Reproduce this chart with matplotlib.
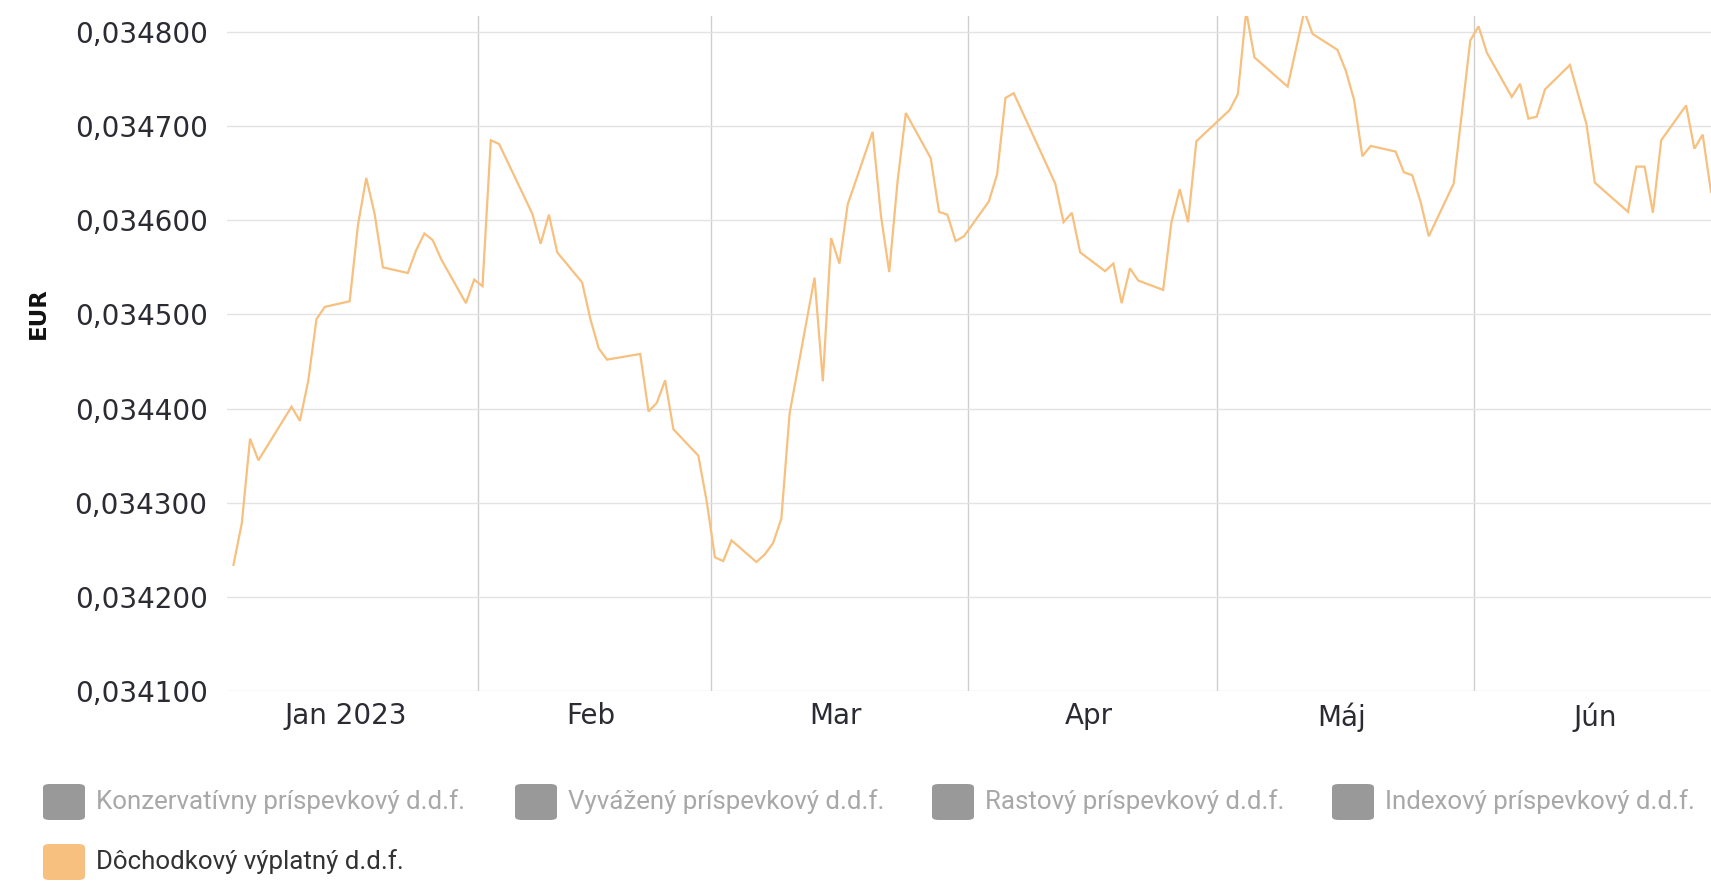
import matplotlib
matplotlib.use("Agg")
import matplotlib.pyplot as plt
import matplotlib.dates as mdates
from matplotlib.patches import FancyBboxPatch
from matplotlib.ticker import FuncFormatter
import pandas as pd

# daily NAV of the fund
dates = [
    "2023-01-02", "2023-01-03", "2023-01-04", "2023-01-05", "2023-01-09", "2023-01-10",
    "2023-01-11", "2023-01-12", "2023-01-13", "2023-01-16", "2023-01-17", "2023-01-18",
    "2023-01-19", "2023-01-20", "2023-01-23", "2023-01-24", "2023-01-25", "2023-01-26",
    "2023-01-27", "2023-01-30", "2023-01-31", "2023-02-01", "2023-02-02", "2023-02-03",
    "2023-02-07", "2023-02-08", "2023-02-09", "2023-02-10", "2023-02-13", "2023-02-14",
    "2023-02-15", "2023-02-16", "2023-02-20", "2023-02-21", "2023-02-22", "2023-02-23",
    "2023-02-24", "2023-02-27", "2023-02-28", "2023-03-01", "2023-03-02", "2023-03-03",
    "2023-03-06", "2023-03-07", "2023-03-08", "2023-03-09", "2023-03-10", "2023-03-13",
    "2023-03-14", "2023-03-15", "2023-03-16", "2023-03-17", "2023-03-20", "2023-03-21",
    "2023-03-22", "2023-03-23", "2023-03-24", "2023-03-27", "2023-03-28", "2023-03-29",
    "2023-03-30", "2023-03-31", "2023-04-03", "2023-04-04", "2023-04-05", "2023-04-06",
    "2023-04-11", "2023-04-12", "2023-04-13", "2023-04-14", "2023-04-17", "2023-04-18",
    "2023-04-19", "2023-04-20", "2023-04-21", "2023-04-24", "2023-04-25", "2023-04-26",
    "2023-04-27", "2023-04-28", "2023-05-02", "2023-05-03", "2023-05-04", "2023-05-05",
    "2023-05-09", "2023-05-11", "2023-05-12", "2023-05-15", "2023-05-16", "2023-05-17",
    "2023-05-18", "2023-05-19", "2023-05-22", "2023-05-23", "2023-05-24", "2023-05-25",
    "2023-05-26", "2023-05-29", "2023-05-31", "2023-06-01", "2023-06-02", "2023-06-05",
    "2023-06-06", "2023-06-07", "2023-06-08", "2023-06-09", "2023-06-12", "2023-06-14",
    "2023-06-15", "2023-06-19", "2023-06-20", "2023-06-21", "2023-06-22", "2023-06-23",
    "2023-06-26", "2023-06-27", "2023-06-28", "2023-06-29",
]
values = [
    0.034234, 0.034278, 0.034368, 0.034345, 0.034402, 0.034387,
    0.034429, 0.034495, 0.034508, 0.034514, 0.034595, 0.034645,
    0.034607, 0.034550, 0.034544, 0.034568, 0.034586, 0.034579,
    0.034559, 0.034512, 0.034537, 0.034530, 0.034685, 0.034681,
    0.034607, 0.034575, 0.034606, 0.034566, 0.034534, 0.034495,
    0.034464, 0.034452, 0.034458, 0.034397, 0.034406, 0.034430,
    0.034378, 0.034350, 0.034302, 0.034242, 0.034238, 0.034260,
    0.034237, 0.034245, 0.034257, 0.034283, 0.034395, 0.034539,
    0.034429, 0.034581, 0.034554, 0.034617, 0.034694, 0.034605,
    0.034545, 0.034641, 0.034714, 0.034666, 0.034609, 0.034606,
    0.034578, 0.034583, 0.034620, 0.034649, 0.034730, 0.034735,
    0.034639, 0.034598, 0.034608, 0.034566, 0.034546, 0.034554,
    0.034512, 0.034549, 0.034536, 0.034526, 0.034598, 0.034633,
    0.034598, 0.034684, 0.034717, 0.034734, 0.034822, 0.034773,
    0.034742, 0.034822, 0.034798, 0.034781, 0.034759, 0.034728,
    0.034668, 0.034679, 0.034673, 0.034651, 0.034648, 0.034620,
    0.034583, 0.034639, 0.034791, 0.034806, 0.034778, 0.034731,
    0.034745, 0.034708, 0.034710, 0.034739, 0.034765, 0.034702,
    0.034640, 0.034609, 0.034657, 0.034657, 0.034608, 0.034685,
    0.034722, 0.034676, 0.034691, 0.034630,
]

month_starts = ["2023-02-01", "2023-03-01", "2023-04-01", "2023-05-01", "2023-06-01"]
month_mids = ["2023-01-16 00:00", "2023-02-14 12:00", "2023-03-16 00:00",
              "2023-04-15 12:00", "2023-05-16 00:00", "2023-06-15 12:00"]
month_labels = ["Jan 2023", "Feb", "Mar", "Apr", "Máj", "Jún"]
y_ticks = [0.0341, 0.0342, 0.0343, 0.0344, 0.0345, 0.0346, 0.0347, 0.0348]

legend_names = ["Konzervatívny príspevkový d.d.f.", "Vyvážený príspevkový d.d.f.",
                "Rastový príspevkový d.d.f.", "Indexový príspevkový d.d.f.",
                "Dôchodkový výplatný d.d.f."]
legend_visible = [False, False, False, False, True]

line_color = "#f7c07f"
W, H = 1711, 881

fig = plt.figure(figsize=(W / 100, H / 100), dpi=100)
ax = fig.add_axes([227 / W, (H - 691) / H, (W - 227) / W, (691 - 16) / H])

x = pd.to_datetime(dates) + pd.Timedelta(hours=12)
ax.plot(x, values, color=line_color, lw=1.6, solid_joinstyle="miter")

jan1 = mdates.date2num(pd.Timestamp("2023-01-01"))
ax.set_xlim(jan1 + 0.72, jan1 + 179.5)
ax.set_ylim(0.0341, 0.034817)

ax.set_yticks(y_ticks)
ax.yaxis.set_major_formatter(FuncFormatter(lambda v, p: f"{v:.6f}".replace(".", ",")))
ax.set_xticks(mdates.date2num(pd.to_datetime(month_starts)))
ax.set_xticklabels([])
ax.set_xticks(mdates.date2num(pd.to_datetime(month_mids, format="%Y-%m-%d %H:%M")), minor=True)
ax.set_xticklabels(month_labels, minor=True)

ax.tick_params(axis="y", length=0, pad=14, labelsize=20, labelcolor="#2b2b33")
ax.tick_params(axis="x", which="both", length=0, pad=8, labelsize=20, labelcolor="#2b2b33")

ax.grid(axis="y", color="#e3e3e3", lw=1)
ax.grid(axis="x", which="major", color="#cfcfcf", lw=1)
for s in ax.spines.values():
    s.set_visible(False)

fig.text(38 / W, (H - 313) / H, "EUR", rotation=90, ha="center", va="center",
         fontsize=16.5, fontweight="bold", color="#111111")

# legend drawn by hand, Highcharts style
box_x = [43, 515, 932, 1332, 43]
row_y = [802, 802, 802, 802, 862]
for name, vis, bx, by in zip(legend_names, legend_visible, box_x, row_y):
    fc = line_color if vis else "#999999"
    tc = "#333333" if vis else "#a8a8a8"
    fig.patches.append(FancyBboxPatch(
        (bx / W, (H - by - 18) / H), 42 / W, 36 / H,
        boxstyle="round,pad=0,rounding_size=0.004", transform=fig.transFigure,
        facecolor=fc, edgecolor="none"))
    fig.text((bx + 53) / W, (H - by) / H, name, ha="left", va="center",
             fontsize=18.6, color=tc, family=["Roboto", "DejaVu Sans"])

fig.savefig("out.png", dpi=100)
